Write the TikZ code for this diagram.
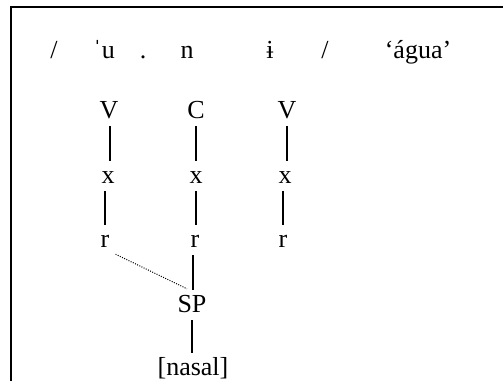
\documentclass[tikz,border=0pt]{standalone}
\usepackage{fontspec}
\setmainfont{Liberation Serif}
\begin{document}
\begin{tikzpicture}[x=1pt,y=-1pt,
  lbl/.style={anchor=base,inner sep=0pt,font=\fontsize{26}{31}\selectfont},
  seg/.style={anchor=base,inner sep=4pt,text height=18pt,text depth=4pt,font=\fontsize{26}{31}\selectfont},
  assoc/.style={line width=1.3pt},
  delink/.style={line width=1pt,dash pattern=on 1pt off 1.4pt}]
\useasboundingbox (0,0) rectangle (503,381);
\draw[line width=1.6pt] (11,381) -- (11,7) -- (503,7);
% transcription line
\node[lbl] (s1) at (54,58) {/};
\node[lbl] (u) at (104,58) {ˈu};
\node[lbl] (dot) at (143,58) {.};
\node[lbl] (n) at (187,58) {n};
\node[lbl] (i) at (270,58) {ɨ};
\node[lbl] (s2) at (325,58) {/};
\node[lbl] (gloss) at (418,58) {‘água’};
% tiers
\node[seg] (V1) at (109,118) {V};
\node[seg] (C) at (196,118) {C};
\node[seg] (V2) at (287,118) {V};
\node[seg] (x1) at (108,183) {x};
\node[seg] (x2) at (196,183) {x};
\node[seg] (x3) at (285,183) {x};
\node[seg] (r1) at (105,247) {r};
\node[seg] (r2) at (195,247) {r};
\node[seg] (r3) at (283,247) {r};
\node[seg] (SP) at (192,312) {SP};
\node[seg] (nas) at (193,375) {[nasal]};
\draw[assoc] ([xshift=1pt]V1.south) -- ([xshift=1pt]V1.south |- x1.north);
\draw[assoc] (C.south) -- (C.south |- x2.north);
\draw[assoc] (V2.south) -- (V2.south |- x3.north);
\draw[assoc] (r1.north |- x1.south) -- (r1.north);
\draw[assoc] (x2.south) -- (x2.south |- r2.north);
\draw[assoc] (r3.north |- x3.south) -- (r3.north);
\draw[assoc] ([xshift=-2pt]r2.south) -- ([xshift=-2pt]r2.south |- SP.north);
\draw[assoc] (SP.south) -- (SP.south |- nas.north);
\draw[delink] ([xshift=2pt,yshift=1pt]r1.south east) -- ([xshift=-5pt,yshift=1pt]SP.north);
\end{tikzpicture}
\end{document}
